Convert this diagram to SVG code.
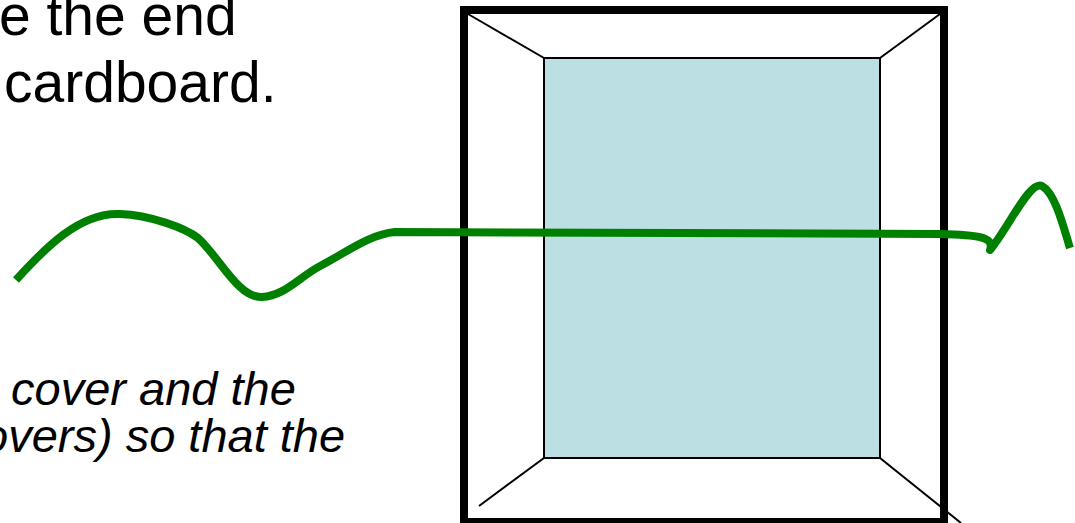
<svg xmlns="http://www.w3.org/2000/svg" width="1075" height="523" viewBox="0 0 1075 523">
<style>
.t{font-family:"Liberation Sans",Arial,sans-serif;fill:#000}
.big{font-size:57px}
.it{font-size:47px;font-style:italic}
.thin{stroke:#000;stroke-width:2;fill:none}
</style>
<rect width="1075" height="523" fill="#fff"/>
<g id="book">
<rect x="464" y="10" width="480" height="512" fill="#fff" stroke="#000" stroke-width="8"/>
<rect x="544" y="58" width="336" height="400" fill="#BBDFE2" stroke="#000" stroke-width="2"/>
<line class="thin" x1="468" y1="14" x2="544" y2="58"/>
<line class="thin" x1="880" y1="58" x2="940" y2="14"/>
<line class="thin" x1="544" y1="458" x2="479" y2="506"/>
<line class="thin" x1="880" y1="458" x2="961" y2="523"/>
</g>
<g id="string">
<path d="M16,280 C45,248 80,212 120,214 C150,215 185,228 198,238 C220,258 238,298 262,297 C285,296 300,276 322,265 C345,253 370,234 395,232 C500,234 700,233 940,234 C975,235 995,236 990,250 C1010,225 1030,180 1042,186 C1055,193 1063,225 1070,248" fill="none" stroke="#008000" stroke-width="8" stroke-linejoin="round"/>
</g>
<g id="texts">
<text class="t big" x="-1" y="35">e the end</text>
<text class="t big" x="4" y="102">cardboard.</text>
<text class="t it" x="11" y="405">cover and the</text>
<text class="t it" x="-18" y="452">overs) so that the</text>
</g>
</svg>
